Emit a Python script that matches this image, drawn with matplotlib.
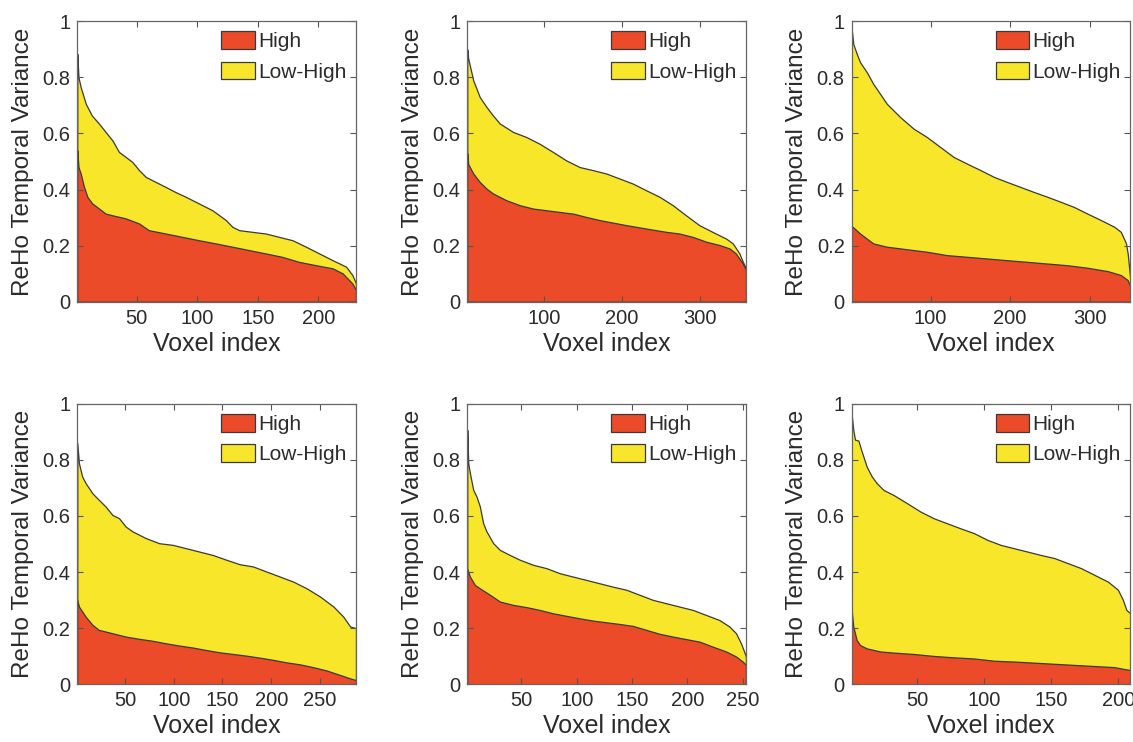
import matplotlib
matplotlib.use("Agg")
import matplotlib.pyplot as plt
from matplotlib.patches import Patch
from matplotlib.ticker import FuncFormatter

plt.rcParams['font.family'] = ['Liberation Sans', 'DejaVu Sans']

# Werte (Voxel index -> ReHo Temporal Variance)
# Panel 1
p1_top_x = [1, 2, 3.8, 8, 13, 18.9, 24.4, 30, 35.4, 41, 46.5, 52, 57.5, 65.7, 74, 82, 90.5, 101.5,
            112.5, 123.6, 129, 134.6, 145.6, 156.6, 167.7, 178.7, 189.7, 200.7, 211.7, 222.8, 228, 231]
p1_top = [0.884, 0.80, 0.765, 0.706, 0.664, 0.635, 0.605, 0.575, 0.534, 0.516, 0.498, 0.469, 0.445,
          0.427, 0.409, 0.391, 0.374, 0.35, 0.326, 0.291, 0.267, 0.255, 0.249, 0.243, 0.231, 0.219,
          0.196, 0.172, 0.148, 0.125, 0.095, 0.065]
p1_low_x = [1, 2, 3.8, 6.5, 9.3, 13.4, 19, 24.4, 30, 41, 52, 60, 74, 87.8, 101.5, 115, 129, 142.6,
            156.6, 170, 184, 198, 211.7, 220, 228, 231]
p1_low = [0.54, 0.48, 0.457, 0.41, 0.374, 0.35, 0.332, 0.314, 0.308, 0.297, 0.279, 0.255, 0.243,
          0.231, 0.219, 0.208, 0.196, 0.184, 0.172, 0.160, 0.142, 0.130, 0.119, 0.101, 0.065, 0.042]

# Panel 2
p2_top_x = [1, 2.3, 8.7, 17, 25.8, 34, 42.9, 60, 77, 94, 111, 128, 145.4, 162.5, 179.6, 196.7, 213.8,
            231, 248, 265, 282, 299, 316, 333.5, 342, 350.6, 355, 359]
p2_top = [0.90, 0.866, 0.789, 0.73, 0.694, 0.664, 0.635, 0.605, 0.587, 0.563, 0.534, 0.504, 0.48,
          0.469, 0.457, 0.439, 0.421, 0.397, 0.374, 0.344, 0.308, 0.273, 0.249, 0.225, 0.208, 0.172,
          0.142, 0.119]
p2_low_x = [1, 2.3, 8.7, 17, 25.8, 34, 51, 68.5, 85.6, 102.7, 119.8, 137, 154, 171, 188, 205, 222,
            239, 256.6, 273.6, 290.7, 307.8, 325, 337.8, 346, 355, 359]
p2_low = [0.53, 0.49, 0.457, 0.427, 0.403, 0.386, 0.362, 0.344, 0.332, 0.326, 0.320, 0.314, 0.302,
          0.291, 0.282, 0.273, 0.265, 0.257, 0.249, 0.243, 0.231, 0.214, 0.202, 0.19, 0.172, 0.136,
          0.113]

# Panel 3
p3_top_x = [1, 3, 7.3, 11.5, 20, 28, 36.7, 45, 62, 78.7, 95.5, 112, 129, 146, 162.8, 179.6, 196, 213,
            230, 246.8, 263.6, 280, 297, 314, 330.8, 339, 345.5, 347.6, 351]
p3_top = [0.973, 0.919, 0.884, 0.854, 0.818, 0.777, 0.741, 0.706, 0.658, 0.617, 0.587, 0.552, 0.516,
          0.492, 0.469, 0.445, 0.427, 0.409, 0.391, 0.374, 0.356, 0.338, 0.314, 0.291, 0.267, 0.249,
          0.208, 0.172, 0.077]
p3_low_x = [1, 11.5, 28, 45, 62, 78.7, 95.5, 120.7, 146, 171, 196, 221.6, 246.8, 272, 297, 322.5,
            339, 347.6, 351]
p3_low = [0.27, 0.243, 0.208, 0.196, 0.19, 0.184, 0.178, 0.166, 0.16, 0.154, 0.148, 0.142, 0.136,
          0.13, 0.121, 0.109, 0.095, 0.077, 0.053]

# Panel 4
p4_top_x = [1, 2.7, 6, 9.6, 16.5, 23, 30, 37, 43.9, 50.8, 57.7, 71.4, 85, 99, 112.7, 126.4, 140,
            153.9, 167.7, 181.4, 195, 208.9, 222.6, 236.4, 250, 263.9, 274, 281, 287]
p4_top = [0.86, 0.788, 0.741, 0.717, 0.681, 0.658, 0.634, 0.604, 0.592, 0.562, 0.545, 0.521, 0.503,
          0.497, 0.485, 0.473, 0.461, 0.444, 0.428, 0.42, 0.402, 0.384, 0.366, 0.342, 0.313, 0.277,
          0.241, 0.206, 0.2]
p4_low_x = [1, 2.7, 9.6, 16.5, 23, 37, 50.8, 64.6, 78.4, 92, 105.8, 119.5, 133.3, 147, 160.8, 174.5,
            188, 202, 215.8, 229.5, 243, 257, 270.8, 281, 287]
p4_low = [0.30, 0.277, 0.241, 0.212, 0.194, 0.182, 0.17, 0.162, 0.155, 0.146, 0.138, 0.131, 0.122,
          0.114, 0.108, 0.102, 0.095, 0.087, 0.078, 0.071, 0.061, 0.049, 0.033, 0.021, 0.015]

# Panel 5
p5_top_x = [1, 1.9, 3.4, 6.4, 9.4, 12.4, 15.4, 18.4, 24.5, 30.5, 39.5, 48.5, 60.5, 72.6, 84.6, 96.6,
            108.7, 120.7, 132.7, 144.8, 156.8, 168.8, 180.8, 192.9, 205, 217, 229, 238, 244, 248.5,
            253]
p5_top = [0.907, 0.788, 0.753, 0.693, 0.669, 0.634, 0.574, 0.545, 0.503, 0.479, 0.461, 0.444, 0.426,
          0.414, 0.396, 0.384, 0.372, 0.36, 0.348, 0.337, 0.319, 0.301, 0.289, 0.277, 0.265, 0.247,
          0.229, 0.206, 0.182, 0.146, 0.099]
p5_low_x = [1, 3.4, 7.9, 12.4, 21.5, 30.5, 42.5, 54.5, 66.6, 78.6, 90.6, 102.7, 114.7, 126.7, 138.7,
            150.8, 162.8, 174.8, 186.9, 198.9, 211, 223, 235, 244, 250, 253]
p5_low = [0.411, 0.384, 0.354, 0.342, 0.319, 0.295, 0.283, 0.275, 0.265, 0.253, 0.244, 0.235, 0.227,
          0.221, 0.215, 0.208, 0.194, 0.18, 0.17, 0.161, 0.152, 0.134, 0.117, 0.099, 0.081, 0.069]

# Panel 6
p6_top_x = [1, 2.2, 3.5, 6, 8.5, 12.2, 16, 19.7, 24.7, 32.2, 42.2, 52.2, 62.2, 72.2, 82.2, 92.2, 102.2,
            112.2, 122.2, 132.2, 142.2, 152.2, 162.2, 172.2, 182.2, 192.2, 199.7, 203.4, 206, 209]
p6_top = [0.961, 0.907, 0.872, 0.869, 0.83, 0.776, 0.741, 0.717, 0.693, 0.675, 0.646, 0.616, 0.592,
          0.574, 0.556, 0.539, 0.515, 0.497, 0.485, 0.473, 0.461, 0.45, 0.432, 0.414, 0.39, 0.366,
          0.337, 0.301, 0.265, 0.253]
p6_low_x = [1, 2.2, 4.7, 7.2, 12.2, 22.2, 32.2, 47.2, 62.2, 77.2, 92.2, 107.2, 122.2, 137.2, 152.2,
            167.2, 182.2, 197.2, 204.7, 209]
p6_low = [0.265, 0.206, 0.158, 0.14, 0.128, 0.117, 0.113, 0.108, 0.101, 0.096, 0.092, 0.084, 0.081,
          0.077, 0.073, 0.069, 0.065, 0.061, 0.054, 0.051]

x_max = [231, 359, 351, 287, 253, 209]
x_ticks = [[50, 100, 150, 200], [100, 200, 300], [100, 200, 300],
           [50, 100, 150, 200, 250], [50, 100, 150, 200, 250], [50, 100, 150, 200]]
y_ticks = [0, 0.2, 0.4, 0.6, 0.8, 1]

panels = [
    (p1_top_x, p1_top, p1_low_x, p1_low),
    (p2_top_x, p2_top, p2_low_x, p2_low),
    (p3_top_x, p3_top, p3_low_x, p3_low),
    (p4_top_x, p4_top, p4_low_x, p4_low),
    (p5_top_x, p5_top, p5_low_x, p5_low),
    (p6_top_x, p6_top, p6_low_x, p6_low),
]

red = '#EB4B28'
yellow = '#F7E629'
edge = '#3a3a3a'
txt = '#2b2b2b'

fig = plt.figure(figsize=(11.33, 7.42), dpi=100)

lefts = [0.0682, 0.4124, 0.7517]
bottoms = [0.5934, 0.0778]
w, h = 0.246, 0.378

for i, (tx, ty, lx, ly) in enumerate(panels):
    ax = fig.add_axes([lefts[i % 3], bottoms[i // 3], w, h])
    ax.fill_between(tx, ty, 0, facecolor=yellow, edgecolor=edge, linewidth=0.9)
    ax.fill_between(lx, ly, 0, facecolor=red, edgecolor=edge, linewidth=0.9)
    ax.set_xlim(1, x_max[i])
    ax.set_ylim(0, 1)
    ax.set_xticks(x_ticks[i])
    ax.set_yticks(y_ticks)
    ax.yaxis.set_major_formatter(FuncFormatter(lambda v, p: '%g' % v))
    ax.tick_params(direction='in', top=True, right=True, length=4, width=0.8,
                   labelsize=14.5, colors='#555555', labelcolor=txt, pad=5)
    for s in ax.spines.values():
        s.set_color('#666666')
        s.set_linewidth(0.9)
    ax.set_xlabel('Voxel index', fontsize=18, color=txt, labelpad=3)
    ax.set_ylabel('ReHo Temporal Variance', fontsize=17.5, color=txt, labelpad=6)

    handles = [Patch(facecolor=red, edgecolor=edge, linewidth=0.9, label='High'),
               Patch(facecolor=yellow, edgecolor=edge, linewidth=0.9, label='Low-High')]
    ax.legend(handles=handles, loc='upper right', bbox_to_anchor=(0.995, 0.995),
              frameon=False, fontsize=15,
              handlelength=1.6, handleheight=0.95, handletextpad=0.15,
              labelspacing=0.5, borderaxespad=0.0, labelcolor=txt)

fig.savefig('out.png', dpi=100)
